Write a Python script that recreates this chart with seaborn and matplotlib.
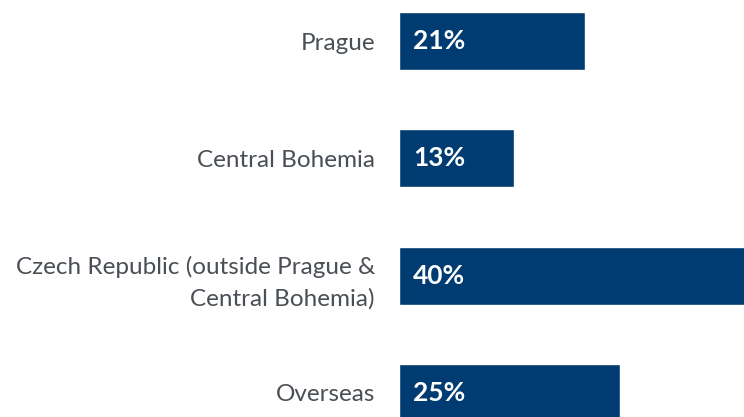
import matplotlib
matplotlib.use('Agg')
import matplotlib.pyplot as plt
import seaborn as sns
import pandas as pd

regioes = ['Prague', 'Central Bohemia', 'Czech Republic (outside Prague &\nCentral Bohemia)', 'Overseas']
valores = [21, 13, 40, 25]

df = pd.DataFrame({'regiao': regioes, 'valor': valores})

sns.set_style('white')
plt.rcParams['font.family'] = ['Lato', 'DejaVu Sans']

fig = plt.figure(figsize=(7.44, 4.17), dpi=100)
ax = fig.add_axes([399 / 744, 0, 345 / 744, 1])

sns.barplot(data=df, x='valor', y='regiao', orient='h', color='#003b71',
            saturation=1, width=0.494, ax=ax)

ax.set_xlim(0, 39)
ax.set_ylim(3.205, -0.35)

# rotulos de valor dentro da barra
for i, v in enumerate(valores):
    ax.text(1.6, i, f'{v}%', color='white', fontsize=19, fontweight='bold',
            va='center', ha='left')

ax.set_xlabel('')
ax.set_ylabel('')
ax.set_xticks([])
ax.tick_params(axis='y', length=0, pad=17.3, labelsize=17.5, labelcolor='#4a4f55')
for lbl in ax.get_yticklabels():
    lbl.set_horizontalalignment('right')
    lbl.set_multialignment('right')
    lbl.set_linespacing(1.6)
sns.despine(ax=ax, left=True, bottom=True)

fig.savefig('out.png', dpi=100)
